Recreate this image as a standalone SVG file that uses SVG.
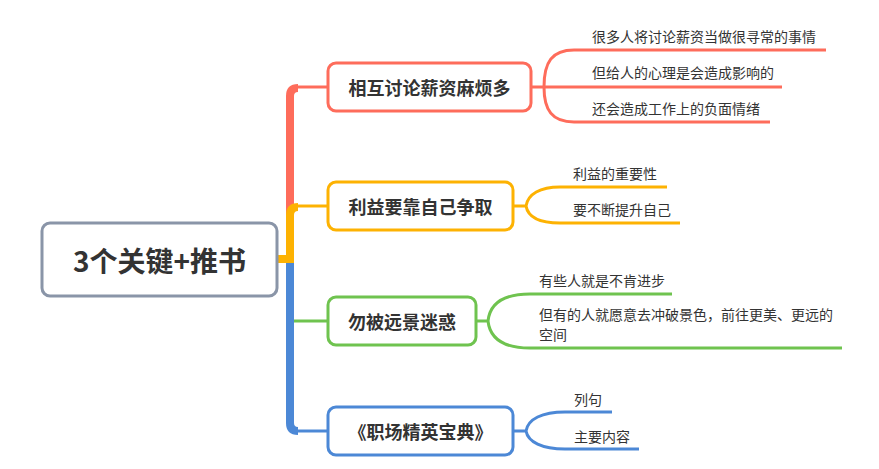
<svg xmlns="http://www.w3.org/2000/svg" width="879" height="469" viewBox="0 0 879 469">
<style>
.t{font-family:"Noto Sans CJK SC","Noto Sans",sans-serif;fill:#333;dominant-baseline:central}
.main{font-size:18px;font-weight:bold;text-anchor:middle}
.sub{font-size:14px}
.box{fill:#fff;stroke-width:3}
.thick{fill:none;stroke-width:8}
.thin{fill:none;stroke-width:3}
.red{stroke:#fe6c5b}.org{stroke:#fdb202}.grn{stroke:#6fc34f}.blu{stroke:#4c88d6}
</style>
<rect width="879" height="469" fill="#fff"/>
<g id="connectors">
<path class="thick blu" d="M290 258 V423 Q290 431 298 431"/>
<path class="thin blu" d="M296 431 H328"/>
<path class="thick red" d="M290 258 V96 Q290 88 298 88"/>
<path class="thin red" d="M296 87 H328"/>
<path class="thick org" d="M278 259 H290 M290 263 V215 Q290 207 298 207"/>
<path class="thin org" d="M296 206 H328"/>
<path class="thin grn" d="M294 321 H328"/>
<path class="thin red" d="M531 87 H544 M544 87 C544 62 552 50 574 50 H826 M544 87 H782 M544 87 C544 110 552 122 574 122 H770"/>
<path class="thin org" d="M513 206 H526 M526 206 C528 194 540 187 560 187 H667 M526 206 C528 217 540 223 560 223 H680"/>
<path class="thin grn" d="M476 321 H488 M488 321 C490 303 504 294 530 294 H672 M488 321 C490 339 504 348 530 348 H842"/>
<path class="thin blu" d="M513 431 H526 M526 431 C528 419 542 412 565 412 H612 M526 431 C528 442 542 449 565 449 H639"/>
</g>
<g id="root">
<rect x="42" y="223" width="235" height="73" rx="8" fill="#fff" stroke="#8a95a8" stroke-width="3"/>
<text class="t" x="159.5" y="259.5" font-size="28" font-weight="bold" text-anchor="middle">3个关键+推书</text>
</g>
<g id="node1">
<rect class="box red" x="328" y="63" width="203" height="48" rx="8"/>
<text class="t main" x="429.5" y="87">相互讨论薪资麻烦多</text>
</g>
<g id="node1a"><text class="t sub" x="592" y="36">很多人将讨论薪资当做很寻常的事情</text></g>
<g id="node1b"><text class="t sub" x="592" y="72">但给人的心理是会造成影响的</text></g>
<g id="node1c"><text class="t sub" x="592" y="108">还会造成工作上的负面情绪</text></g>
<g id="node2">
<rect class="box org" x="328" y="182" width="185" height="48" rx="8"/>
<text class="t main" x="420.5" y="206">利益要靠自己争取</text>
</g>
<g id="node2a"><text class="t sub" x="573" y="173">利益的重要性</text></g>
<g id="node2b"><text class="t sub" x="573" y="209">要不断提升自己</text></g>
<g id="node3">
<rect class="box grn" x="328" y="297" width="148" height="48" rx="8"/>
<text class="t main" x="402" y="321">勿被远景迷惑</text>
</g>
<g id="node3a"><text class="t sub" x="539" y="280">有些人就是不肯进步</text></g>
<g id="node3b"><text class="t sub" x="539" y="314">但有的人就愿意去冲破景色，前往更美、更远的</text><text class="t sub" x="539" y="334">空间</text></g>
<g id="node4">
<rect class="box blu" x="328" y="407" width="185" height="48" rx="8"/>
<text class="t main" x="420.5" y="431">《职场精英宝典》</text>
</g>
<g id="node4a"><text class="t sub" x="574" y="399">列句</text></g>
<g id="node4b"><text class="t sub" x="574" y="436">主要内容</text></g>
</svg>
